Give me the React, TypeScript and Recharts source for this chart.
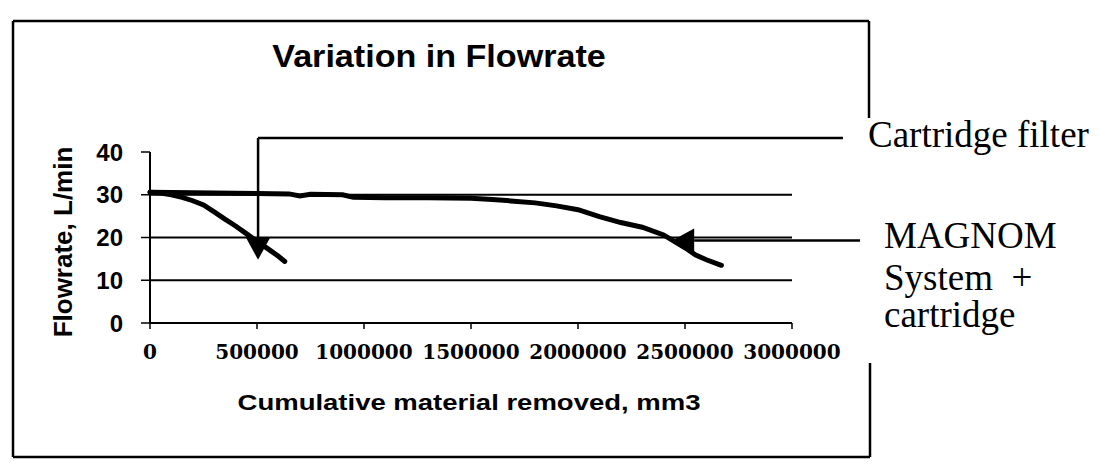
import { Line, LineChart, ReferenceLine, XAxis, YAxis } from "recharts";

const xTicks = [0, 500000, 1000000, 1500000, 2000000, 2500000, 3000000];
const yTicks = [0, 10, 20, 30, 40];
const gridValues = [10, 20, 30];

// cartridge filter only
const cartridgeX = [0, 50000, 100000, 150000, 200000, 250000, 300000, 350000, 400000, 450000, 500000, 550000, 600000, 630000];
const cartridgeY = [30.6, 30.4, 30.0, 29.4, 28.6, 27.6, 26.0, 24.3, 22.7, 20.9, 19.1, 17.4, 15.6, 14.4];

// MAGNOM system + cartridge
const magnomX = [0, 100000, 300000, 500000, 650000, 700000, 750000, 900000, 950000, 1100000, 1300000, 1500000, 1600000, 1700000, 1800000, 1900000, 2000000, 2100000, 2200000, 2300000, 2400000, 2450000, 2500000, 2550000, 2600000, 2670000];
const magnomY = [30.6, 30.5, 30.4, 30.3, 30.2, 29.7, 30.1, 30.0, 29.4, 29.3, 29.3, 29.2, 28.9, 28.5, 28.1, 27.4, 26.5, 24.9, 23.5, 22.4, 20.6, 19.1, 17.6, 15.9, 14.8, 13.5];

const cartridgeData = cartridgeX.map((x, i) => ({ x, flow: cartridgeY[i] }));
const magnomData = magnomX.map((x, i) => ({ x, flow: magnomY[i] }));

const SANS = "'Liberation Sans', Arial, sans-serif";
const SERIF = "'Liberation Serif', 'Times New Roman', serif";

// line drawn between the reference segment ends, optional arrowhead at the end
function ArrowLine(props: any) {
  const { x1, y1, x2, y2, head } = props;
  const dx = x2 - x1;
  const dy = y2 - y1;
  const len = Math.sqrt(dx * dx + dy * dy) || 1;
  const ux = dx / len;
  const uy = dy / len;
  const L = 22;
  const W = 24;
  const bx = x2 - ux * L;
  const by = y2 - uy * L;
  const px = -uy * (W / 2);
  const py = ux * (W / 2);
  return (
    <g>
      <line x1={x1} y1={y1} x2={head ? bx : x2} y2={head ? by : y2} stroke="#000" strokeWidth={2.5} />
      {head && (
        <polygon points={`${x2},${y2} ${bx + px},${by + py} ${bx - px},${by - py}`} fill="#000" />
      )}
    </g>
  );
}

export default function App() {
  return (
    <div style={{ position: "absolute", left: 0, top: 0, width: 1100, height: 468, background: "#fff" }}>
      <svg width={1100} height={468} style={{ position: "absolute", left: 0, top: 0 }}>
        <g stroke="#000" strokeWidth={2.5}>
          <line x1={13} y1={21} x2={869} y2={21} />
          <line x1={13} y1={21} x2={13} y2={457} />
          <line x1={13} y1={457} x2={870} y2={457} />
          <line x1={869} y1={21} x2={869} y2={118} />
          <line x1={870} y1={363} x2={870} y2={457} />
        </g>
        <text transform="translate(439,67) scale(1.1,1)" textAnchor="middle" fontFamily={SANS} fontWeight={700} fontSize={31}>
          Variation in Flowrate
        </text>
        <text transform="translate(72,242) rotate(-90)" textAnchor="middle" fontFamily={SANS} fontWeight={700} fontSize={26}>
          Flowrate, L/min
        </text>
        <text transform="translate(469,410) scale(1.25,1)" textAnchor="middle" fontFamily={SANS} fontWeight={700} fontSize={22}>
          Cumulative material removed, mm3
        </text>
        <g fontFamily={SERIF} fontSize={37} fill="#000">
          <text x={868} y={147}>Cartridge filter</text>
          <text x={884} y={248}>MAGNOM</text>
          <text x={884} y={290} style={{ whiteSpace: "pre" }}>System  +</text>
          <text x={884} y={327}>cartridge</text>
        </g>
      </svg>
      <div style={{ position: "absolute", left: 0, top: 0 }}>
        <LineChart width={1100} height={468} margin={{ top: 152, right: 308, bottom: 105, left: 90 }}>
          <XAxis
            dataKey="x"
            type="number"
            domain={[0, 3000000]}
            ticks={xTicks}
            allowDuplicatedCategory={false}
            tickFormatter={(v: number) => String(v)}
            height={40}
            axisLine={{ stroke: "#000", strokeWidth: 2 }}
            tickLine={{ stroke: "#000", strokeWidth: 1.5 }}
            tickSize={6}
            tickMargin={16}
            tick={{ fill: "#000", fontSize: 20, fontFamily: "'DejaVu Serif', serif", fontWeight: 700 }}
            interval={0}
          />
          <YAxis
            type="number"
            domain={[0, 40]}
            ticks={yTicks}
            width={60}
            axisLine={{ stroke: "#000", strokeWidth: 2 }}
            tickLine={{ stroke: "#000", strokeWidth: 1.5 }}
            tickSize={9}
            tickMargin={18}
            tick={{ fill: "#000", fontSize: 24, fontFamily: SANS, fontWeight: 700 }}
            interval={0}
          />
          {gridValues.map((v) => (
            <ReferenceLine key={v} y={v} stroke="#000" strokeWidth={2} />
          ))}
          <Line data={magnomData} dataKey="flow" type="linear" stroke="#000" strokeWidth={5} strokeLinecap="round" dot={false} isAnimationActive={false} />
          <Line data={cartridgeData} dataKey="flow" type="linear" stroke="#000" strokeWidth={5} strokeLinecap="round" dot={false} isAnimationActive={false} />
          <ReferenceLine
            segment={[{ x: 3238000, y: 43.3 }, { x: 505000, y: 43.3 }]}
            ifOverflow="visible"
            shape={(p: any) => <ArrowLine {...p} />}
          />
          <ReferenceLine
            segment={[{ x: 505000, y: 43.3 }, { x: 505000, y: 14.8 }]}
            ifOverflow="visible"
            shape={(p: any) => <ArrowLine {...p} head />}
          />
          <ReferenceLine
            segment={[{ x: 3318000, y: 19.3 }, { x: 2440000, y: 19.3 }]}
            ifOverflow="visible"
            shape={(p: any) => <ArrowLine {...p} head />}
          />
        </LineChart>
      </div>
    </div>
  );
}
